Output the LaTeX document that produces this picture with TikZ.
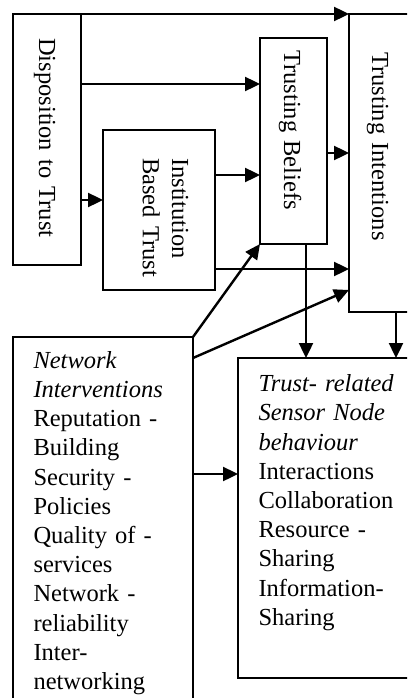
\documentclass[tikz,border=0pt]{standalone}
\usepackage{fontspec}
\setmainfont{Liberation Serif}
\usetikzlibrary{arrows.meta}
\begin{document}
\begin{tikzpicture}[x=1pt,y=-1pt,
  box/.style={draw, line width=2.4pt, rectangle, inner sep=0pt, outer sep=0pt, anchor=north west},
  conn/.style={line width=2.4pt, -{Triangle[length=15pt,width=14pt]}},
  txt/.style={inner sep=0pt, font=\fontsize{24.5}{29.2}\selectfont, text width=#1, align=left, anchor=base west},
  vtxt/.style={txt=#1, rotate=-90}
]
\useasboundingbox (0,0) rectangle (407,698);
\clip (0,0) rectangle (407,698);

% boxes
\node[box, minimum width=68pt,  minimum height=251pt] (disp)    at (13,14)  {};
\node[box, minimum width=112pt, minimum height=160pt] (inst)    at (103,130) {};
\node[box, minimum width=67pt,  minimum height=206pt] (beliefs) at (260,38) {};
\node[box, minimum width=100pt, minimum height=298pt] (intent)  at (349,14) {};
\node[box, minimum width=180pt, minimum height=400pt] (netw)    at (13,337) {};
\node[box, minimum width=200pt, minimum height=320pt] (sensor)  at (238,358) {};

% box texts
\node[vtxt=230pt] (dispT) at (39,38)  {Disposition to Trust};
\node[vtxt=150pt] (instT) at (172,158) {Institution\\Based Trust};
\node[vtxt=200pt] (belT)  at (284,50) {Trusting Beliefs};
\node[vtxt=250pt] (intT)  at (372,52) {Trusting Intentions};
\node[txt=165pt] (netT) at (33.3,368.3)
  {{\itshape Network\\Interventions}\\Reputation -\\Building\\Security -\\Policies\\Quality of -\\services\\Network -\\reliability\\Inter-\\networking};
\node[txt=160pt] (senT) at (258.3,391.7)
  {{\itshape Trust- related\\Sensor Node\\behaviour}\\Interactions\\Collaboration\\Resource -\\Sharing\\Information-\\Sharing};

% connectors
\draw[conn] (disp.north east) -- (intent.north west);
\draw[conn] (disp.east |- 0,84) -- (beliefs.west |- 0,84);
\draw[conn] (disp.east |- 0,200) -- (inst.west |- 0,200);
\draw[conn] (inst.east |- 0,175) -- (beliefs.west |- 0,175);
\draw[conn] (beliefs.east |- 0,153) -- (intent.west |- 0,153);
\draw[conn] (inst.east |- 0,269) -- (intent.west |- 0,269);
\draw[conn] (netw.north east) -- (beliefs.south west);
\draw[conn] (netw.east |- 0,358) -- (intent.west |- 0,290);
\draw[conn] (beliefs.south -| 306,0) -- (sensor.north -| 306,0);
\draw[conn] (intent.south -| 396,0) -- (sensor.north -| 396,0);
\draw[conn] (netw.east |- 0,474) -- (sensor.west |- 0,474);
\end{tikzpicture}
\end{document}
